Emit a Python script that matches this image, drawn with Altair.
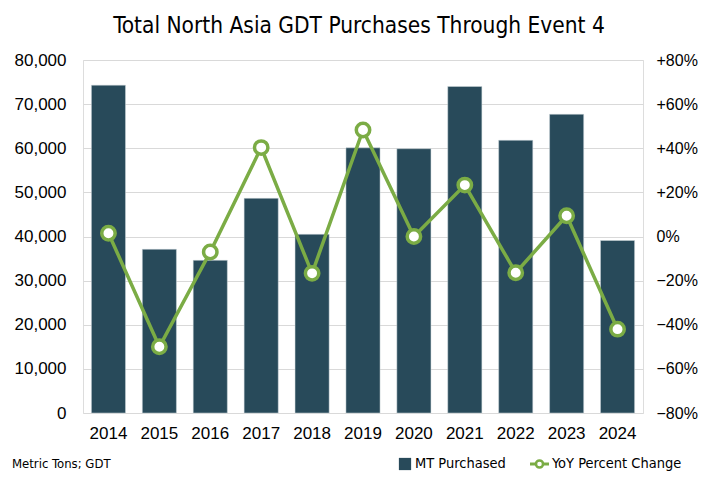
import altair as alt
import pandas as pd

years = ["2014", "2015", "2016", "2017", "2018", "2019", "2020", "2021", "2022", "2023", "2024"]
mt_purchased = [74300, 37100, 34600, 48650, 40500, 60100, 59900, 74000, 61800, 67700, 39100]
yoy_pct = [1.5, -50.0, -7.0, 40.3, -16.7, 48.3, 0.0, 23.3, -16.4, 9.4, -42.0]

BAR = "#284A5A"
GREEN = "#7BAC45"
FONT = "Liberation Sans"
NARROW = "'DejaVu Sans Condensed', 'Liberation Sans'"

df = pd.DataFrame({"year": years, "mt": mt_purchased, "pct": yoy_pct})

x = alt.X("year:N", sort=years, title=None,
          scale=alt.Scale(paddingInner=0.33, paddingOuter=0.165),
          axis=alt.Axis(labelAngle=0, labelFont=FONT, labelFontSize=17, labelColor="#000",
                        labelPadding=12, ticks=False, domain=False, grid=False))

bars = alt.Chart(df).mark_bar(color=BAR, stroke="#cfd8dc", strokeWidth=0.5).encode(
    x=x,
    y=alt.Y("mt:Q", title=None,
            scale=alt.Scale(domain=[0, 80000], nice=False),
            axis=alt.Axis(orient="left", values=list(range(0, 80001, 10000)), format=",.0f",
                          labelFont=FONT, labelFontSize=17, labelColor="#000", labelPadding=17,
                          ticks=False, domain=False, grid=True, gridColor="#d9d9d9",
                          gridWidth=1.2)),
)

line = alt.Chart(df).mark_line(color=GREEN, strokeWidth=3.5).encode(
    x=x,
    y=alt.Y("pct:Q", title=None,
            scale=alt.Scale(domain=[-80, 80], nice=False),
            axis=alt.Axis(orient="right", values=list(range(-80, 81, 20)),
                          labelExpr="(datum.value > 0 ? '+' : '') + format(datum.value, '.0f') + '%'",
                          labelFont=FONT, labelFontSize=16, labelColor="#000", labelPadding=13,
                          labelAlign="left", ticks=False, domain=False, grid=False)),
)

points = alt.Chart(df).mark_point(shape="circle", filled=True, fill="white", stroke=GREEN,
                                  strokeWidth=3.5, size=180, opacity=1).encode(
    x=x,
    y=alt.Y("pct:Q", scale=alt.Scale(domain=[-80, 80], nice=False), axis=None),
)

one = pd.DataFrame({"k": [0]})
note = alt.Chart(one).mark_text(text="Metric Tons; GDT", font=NARROW, fontSize=13, align="left",
                                baseline="middle", color="#000").encode(
    x=alt.value(-71), y=alt.value(404))
leg_sq = alt.Chart(one).mark_square(color=BAR, size=150, opacity=1).encode(
    x=alt.value(322), y=alt.value(404))
leg_t1 = alt.Chart(one).mark_text(text="MT Purchased", font=NARROW, fontSize=14.5, align="left",
                                  baseline="middle", color="#000").encode(
    x=alt.value(332), y=alt.value(404))
leg_ln = alt.Chart(one).mark_rule(color=GREEN, strokeWidth=3).encode(
    x=alt.value(447), x2=alt.value(466), y=alt.value(404))
leg_pt = alt.Chart(one).mark_point(shape="circle", filled=True, fill="white", stroke=GREEN,
                                   strokeWidth=2.5, size=50, opacity=1).encode(
    x=alt.value(456.5), y=alt.value(404))
leg_t2 = alt.Chart(one).mark_text(text="YoY Percent Change", font=NARROW, fontSize=14.5, align="left",
                                  baseline="middle", color="#000").encode(
    x=alt.value(469), y=alt.value(404))

chart = alt.layer(bars, line, points, note, leg_sq, leg_t1, leg_ln, leg_pt, leg_t2).resolve_scale(
    y="independent"
).properties(
    width=560, height=353,
    autosize=alt.AutoSizeParams(type="none"),
    padding={"left": 75, "top": 52, "right": 55, "bottom": 63},
    title=alt.TitleParams("Total North Asia GDT Purchases Through Event 4", font=NARROW,
                          fontSize=22.5, fontWeight="normal", color="#000", anchor="middle",
                          offset=14, dx=-4),
).configure_view(stroke=None).configure(background="white")

chart.save("out.html", embed_options={"renderer": "svg", "actions": False})
